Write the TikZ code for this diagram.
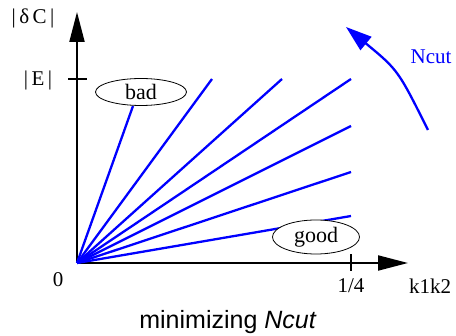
\documentclass[tikz,border=0pt]{standalone}
\usepackage{fontspec}
\setmainfont{Liberation Serif}
\setsansfont{Liberation Sans}
\usetikzlibrary{arrows.meta,shapes.geometric}
\begin{document}
\begin{tikzpicture}[x=1pt,y=-1pt,
  axis/.style={line width=2pt,-{Triangle[length=30pt,width=15pt]}},
  ray/.style={blue,line width=2.3pt},
  lbl/.style={font=\fontsize{21}{24}\selectfont,inner sep=0pt},
  oval/.style={draw,ellipse,line width=0.8pt,fill=white,inner sep=0pt,font=\fontsize{22}{25}\selectfont}]
\useasboundingbox (0,0) rectangle (456,336);
\coordinate (O) at (77,263);
\coordinate (ytop) at (77,12);
\coordinate (xend) at (408,263);
\draw[axis] (O) -- (ytop);
\draw[axis] (O) -- (xend);
\coordinate (ty) at (77,79);
\coordinate (tx) at (351,263);
\draw[line width=1.6pt] ([xshift=-9pt]ty) -- ([xshift=10pt]ty);
\draw[line width=1.6pt] ([yshift=-8pt]tx) -- ([yshift=9pt]tx);
% rays
\coordinate (r1) at (133,106);
\coordinate (r2) at (212,79);
\coordinate (r3) at (282,79);
\coordinate (r4) at (351,79);
\coordinate (r5) at (351,126);
\coordinate (r6) at (351,172);
\coordinate (r7) at (351,216);
\foreach \r in {r1,r2,r3,r4,r5,r6,r7} \draw[ray] (O) -- (\r);
\node[oval,minimum width=91pt,minimum height=27pt] (bad) at (141,92) {bad};
\node[oval,minimum width=87pt,minimum height=34pt] (good) at (316,237) {good};
% labels
\node[lbl] (dc) at (33,18) {|\,δ\,C\,|};
\node[lbl] (E) at (38,80) {|\,E\,|};
\node[lbl] (zero) at (58,280) {0};
\node[lbl] (q) at (351,286) {1/4};
\node[lbl] (k) at (430,286) {k1k2};
\node[lbl,blue] (nc) at (431,57) {Ncut};
\node[font=\sffamily\fontsize{25}{28}\selectfont,inner sep=0pt] (cap) at (228,322) {minimizing \textit{Ncut}};
% Ncut arrow
\coordinate (a0) at (428,130);
\coordinate (a1) at (346,27);
\draw[blue,line width=2.3pt,-{Triangle[length=26pt,width=17pt]}] (a0) .. controls (398,70) .. (a1);
\end{tikzpicture}
\end{document}
